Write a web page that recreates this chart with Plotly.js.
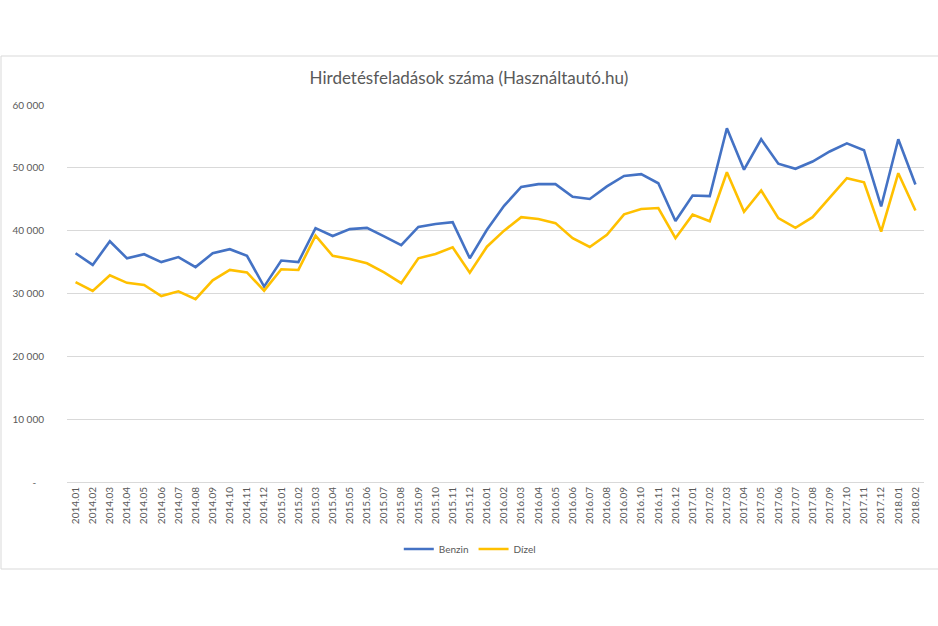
<!DOCTYPE html>
<html>
<head>
<meta charset="utf-8">
<script src="https://cdn.plot.ly/plotly-3.0.1.min.js"></script>
<style>html,body{margin:0;padding:0;background:#fff;}#chart{width:938px;height:626px;}</style>
</head>
<body>
<div id="chart"></div>
<script>
const months = ["2014.01","2014.02","2014.03","2014.04","2014.05","2014.06","2014.07","2014.08","2014.09","2014.10","2014.11","2014.12",
"2015.01","2015.02","2015.03","2015.04","2015.05","2015.06","2015.07","2015.08","2015.09","2015.10","2015.11","2015.12",
"2016.01","2016.02","2016.03","2016.04","2016.05","2016.06","2016.07","2016.08","2016.09","2016.10","2016.11","2016.12",
"2017.01","2017.02","2017.03","2017.04","2017.05","2017.06","2017.07","2017.08","2017.09","2017.10","2017.11","2017.12",
"2018.01","2018.02"];

const benzin = [36400,34550,38300,35600,36250,35000,35800,34200,36400,37050,36000,31100,
35250,35000,40400,39150,40250,40450,39100,37700,40600,41050,41350,35600,
40150,43950,46950,47400,47400,45400,45050,47050,48700,49000,47550,41550,
45600,45500,56300,49700,54550,50650,49850,51000,52600,53900,52800,43850,
54550,47350];

const dizel = [31800,30400,32900,31700,31350,29600,30350,29100,32100,33750,33350,30450,
33850,33750,39200,36000,35500,34800,33350,31650,35600,36300,37350,33300,
37450,40000,42150,41850,41200,38800,37400,39350,42600,43450,43600,38800,
42550,41500,49300,43000,46400,42000,40450,42150,45250,48350,47700,39850,
49150,43200];

const yTickVals = [0,10000,20000,30000,40000,50000,60000];
const yTickText = ["-\u00a0\u00a0\u00a0","10 000","20 000","30 000","40 000","50 000","60 000"];

const traces = [
  {x: months, y: benzin, name: "Benzin", type: "scatter", mode: "lines",
   line: {color: "#4472C4", width: 2.6}},
  {x: months, y: dizel, name: "Dízel", type: "scatter", mode: "lines",
   line: {color: "#FFC000", width: 2.6}}
];

const layout = {
  width: 938, height: 626,
  margin: {l: 67, r: 14, t: 105, b: 144},
  paper_bgcolor: "#ffffff", plot_bgcolor: "#ffffff",
  font: {family: "Lato, 'Open Sans', sans-serif", color: "#595959", size: 10},
  title: {text: "Hirdetésfeladások száma (Használtautó.hu)",
          font: {size: 17, color: "#595959", family: "Lato, 'Open Sans', sans-serif"},
          x: 0.5, xanchor: "center", y: 1 - 78/626, yanchor: "middle", yref: "container"},
  xaxis: {type: "category", range: [-0.5, months.length - 0.5], tickangle: -90,
          showgrid: false, showline: true, linecolor: "#d9d9d9", linewidth: 1,
          ticks: "", tickfont: {size: 10, color: "#595959"}, fixedrange: true},
  yaxis: {range: [0, 60000], tickvals: yTickVals, ticktext: yTickText,
          showgrid: true, gridcolor: "#d9d9d9", gridwidth: 1, zeroline: false,
          showline: false, ticks: "", ticklabelstandoff: 22,
          tickfont: {size: 10, color: "#595959"}, fixedrange: true},
  showlegend: true,
  legend: {orientation: "h", x: 0.47, xanchor: "center", y: (482-549)/377, yanchor: "middle",
           font: {size: 10, color: "#595959"}, itemwidth: 30, tracegroupgap: 0},
  shapes: [{type: "rect", xref: "paper", yref: "paper",
            x0: (1-67)/857, x1: (945-67)/857, y0: (482-569)/377, y1: (482-56)/377,
            line: {color: "#d9d9d9", width: 1}, fillcolor: "rgba(0,0,0,0)", layer: "below"}]
};

Plotly.newPlot("chart", traces, layout, {displayModeBar: false, staticPlot: true});
</script>
</body>
</html>
